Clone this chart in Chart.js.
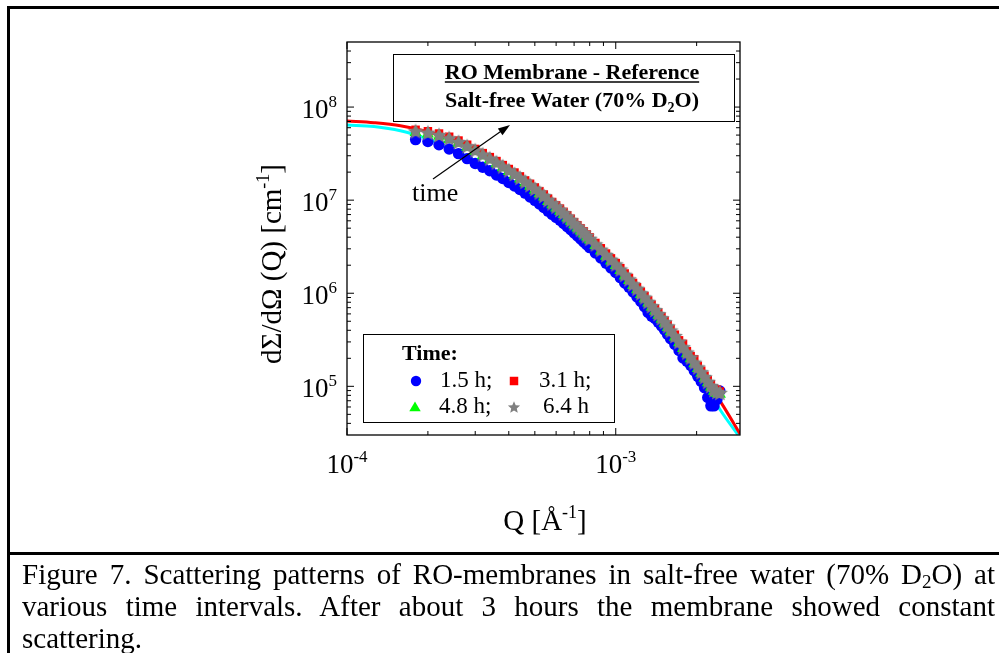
<!DOCTYPE html>
<html>
<head>
<meta charset="utf-8">
<script src="https://cdn.jsdelivr.net/npm/chart.js@4.4.1/dist/chart.umd.min.js"></script>
<style>
html,body{margin:0;padding:0;background:#fff;}
#wrap{position:relative;width:999px;height:653px;overflow:hidden;background:#fff;}
#c{position:absolute;left:0;top:0;}
.bar{position:absolute;background:#000;}
#caption{position:absolute;left:22px;top:558px;width:973px;font-family:"Liberation Serif","Times New Roman",serif;font-size:29px;line-height:32px;text-align:justify;color:#000;}
#caption sub{font-size:19px;line-height:0;vertical-align:-4px;}
</style>
</head>
<body>
<div id="wrap">
  <canvas id="c" width="999" height="653"></canvas>
  <div class="bar" style="left:7px;top:6px;width:992px;height:2.5px;"></div>
  <div class="bar" style="left:7px;top:6px;width:2.7px;height:647px;"></div>
  <div class="bar" style="left:7px;top:551.5px;width:992px;height:3px;"></div>
  <div id="caption">Figure 7. Scattering patterns of RO-membranes in salt-free water (70% D<sub>2</sub>O) at various time intervals. After about 3 hours the membrane showed constant scattering.</div>
</div>
<script>
// ---------- data ----------
const qData = [
  1.8e-4, 2.0e-4, 2.2e-4, 2.4e-4, 2.6e-4, 2.8e-4, 3.0e-4, 3.2e-4, 3.4e-4, 3.6e-4,
  3.8e-4, 4.0e-4, 4.2e-4, 4.4e-4, 4.6e-4, 4.8e-4, 5.0e-4, 5.2e-4, 5.4e-4, 5.6e-4,
  5.8e-4, 6.0e-4, 6.2e-4, 6.4e-4, 6.6e-4, 6.8e-4, 7.0e-4, 7.2e-4, 7.4e-4, 7.6e-4,
  7.8e-4, 8.0e-4,
  8.4e-4, 8.8e-4, 9.2e-4, 9.6e-4, 1.00e-3, 1.04e-3, 1.08e-3, 1.12e-3, 1.16e-3, 1.20e-3,
  1.24e-3, 1.28e-3, 1.32e-3, 1.36e-3, 1.40e-3, 1.44e-3, 1.48e-3, 1.52e-3, 1.56e-3, 1.60e-3,
  1.66e-3, 1.72e-3, 1.78e-3, 1.84e-3, 1.90e-3, 1.96e-3, 2.02e-3, 2.08e-3, 2.14e-3, 2.20e-3,
  2.26e-3, 2.32e-3, 2.38e-3, 2.44e-3
];
const i15h = [
  4.47e7, 4.27e7, 3.94e7, 3.55e7, 3.16e7, 2.79e7, 2.48e7, 2.26e7, 2.07e7, 1.86e7,
  1.71e7, 1.55e7, 1.42e7, 1.30e7, 1.19e7, 1.08e7, 9.95e6, 9.12e6, 8.32e6, 7.62e6,
  7.03e6, 6.53e6, 6.07e6, 5.62e6, 5.19e6, 4.80e6, 4.45e6, 4.12e6, 3.82e6, 3.56e6,
  3.32e6, 3.09e6,
  2.71e6, 2.39e6, 2.10e6, 1.87e6, 1.67e6, 1.47e6, 1.29e6, 1.16e6, 1.03e6, 9.12e5,
  8.17e5, 7.16e5, 6.21e5, 5.66e5, 5.37e5, 4.89e5, 4.45e5, 4.03e5, 3.61e5, 3.24e5,
  2.82e5, 2.43e5, 2.02e5, 1.86e5, 1.68e5, 1.47e5, 1.28e5, 1.13e5, 9.68e4, 7.59e4,
  6.17e4, 6.17e4, 7.24e4, 8.91e4
];
const i31h = [
  5.70e7, 5.50e7, 5.20e7, 4.80e7, 4.37e7, 3.94e7, 3.55e7, 3.20e7, 2.90e7, 2.63e7,
  2.38e7, 2.16e7, 1.98e7, 1.80e7, 1.63e7, 1.50e7, 1.37e7, 1.25e7, 1.15e7, 1.04e7,
  9.55e6, 8.80e6, 8.12e6, 7.49e6, 6.88e6, 6.32e6, 5.81e6, 5.37e6, 4.97e6, 4.62e6,
  4.28e6, 3.98e6,
  3.47e6, 3.04e6, 2.67e6, 2.37e6, 2.11e6, 1.86e6, 1.63e6, 1.46e6, 1.29e6, 1.16e6,
  1.04e6, 9.33e5, 8.37e5, 7.54e5, 6.84e5, 6.19e5, 5.60e5, 5.07e5, 4.57e5, 4.12e5,
  3.59e5, 3.12e5, 2.86e5, 2.39e5, 2.11e5, 1.95e5, 1.66e5, 1.47e5, 1.30e5, 1.16e5,
  1.05e5, 9.5e4, 9.2e4, 8.8e4
];
const i48h = [
  5.34e7, 5.15e7, 4.86e7, 4.48e7, 4.09e7, 3.69e7, 3.33e7, 3.00e7, 2.72e7, 2.46e7,
  2.23e7, 2.03e7, 1.85e7, 1.69e7, 1.53e7, 1.41e7, 1.28e7, 1.17e7, 1.08e7, 9.70e6,
  8.95e6, 8.25e6, 7.61e6, 7.02e6, 6.45e6, 5.93e6, 5.45e6, 5.03e6, 4.67e6, 4.34e6,
  4.02e6, 3.73e6,
  3.25e6, 2.85e6, 2.50e6, 2.22e6, 1.98e6, 1.75e6, 1.53e6, 1.37e6, 1.21e6, 1.09e6,
  9.70e5, 8.75e5, 7.85e5, 7.07e5, 6.41e5, 5.80e5, 5.25e5, 4.75e5, 4.29e5, 3.86e5,
  3.37e5, 2.93e5, 2.55e5, 2.24e5, 1.98e5, 1.75e5, 1.55e5, 1.38e5, 1.22e5, 1.09e5,
  9.8e4, 8.85e4, 8.4e4, 8.2e4
];
const i64h = [
  5.50e7, 5.31e7, 5.01e7, 4.62e7, 4.22e7, 3.80e7, 3.43e7, 3.09e7, 2.80e7, 2.54e7,
  2.30e7, 2.09e7, 1.91e7, 1.74e7, 1.58e7, 1.45e7, 1.32e7, 1.21e7, 1.11e7, 1.00e7,
  9.23e6, 8.51e6, 7.85e6, 7.24e6, 6.65e6, 6.11e6, 5.62e6, 5.19e6, 4.81e6, 4.47e6,
  4.14e6, 3.85e6,
  3.35e6, 2.94e6, 2.58e6, 2.29e6, 2.04e6, 1.80e6, 1.58e6, 1.41e6, 1.25e6, 1.12e6,
  1.00e6, 9.02e5, 8.09e5, 7.29e5, 6.61e5, 5.98e5, 5.41e5, 4.90e5, 4.42e5, 3.98e5,
  3.47e5, 3.02e5, 2.63e5, 2.31e5, 2.04e5, 1.80e5, 1.60e5, 1.42e5, 1.26e5, 1.12e5,
  1.01e5, 9.12e4, 8.71e4, 8.51e4
];
const qFit   = [1.0e-4, 1.26e-4, 1.58e-4, 2.0e-4, 2.51e-4, 3.16e-4, 3.98e-4, 5.01e-4, 6.31e-4, 7.94e-4, 1.0e-3, 1.26e-3, 1.58e-3, 2.0e-3, 2.51e-3, 2.9e-3];
const fit64h = [7.08e7, 6.79e7, 6.31e7, 5.43e7, 4.37e7, 3.20e7, 2.14e7, 1.35e7, 7.76e6, 3.98e6, 2.09e6, 9.77e5, 4.27e5, 1.70e5, 6.17e4, 3.09e4];
const fit15h = [6.41e7, 6.17e7, 5.56e7, 4.52e7, 3.43e7, 2.43e7, 1.58e7, 1.00e7, 5.89e6, 3.31e6, 1.74e6, 8.32e5, 3.55e5, 1.41e5, 5.01e4, 2.82e4];

const seriesLabels = ['1.5 h;', '3.1 h;', '4.8 h;', '6.4 h'];
const xMajorTicks = [1e-4, 1e-3];
const xTickExp    = ['-4', '-3'];
const xMinorTicks = [2e-4, 3e-4, 4e-4, 5e-4, 6e-4, 7e-4, 8e-4, 9e-4, 2e-3];
const yMajorTicks = [1e5, 1e6, 1e7, 1e8];
const yTickExp    = ['5', '6', '7', '8'];
const yMinorTicks = [4e4, 5e4, 6e4, 7e4, 8e4, 9e4, 2e5, 3e5, 4e5, 5e5, 6e5, 7e5, 8e5, 9e5,
                     2e6, 3e6, 4e6, 5e6, 6e6, 7e6, 8e6, 9e6, 2e7, 3e7, 4e7, 5e7, 6e7, 7e7, 8e7, 9e7,
                     2e8, 3e8, 4e8];

// ---------- styling ----------
const SERIF = '"Liberation Serif","Times New Roman",serif';
const makeStar = (size, outer, inner) => {
  const c = document.createElement('canvas'); c.width = size; c.height = size;
  const g = c.getContext('2d'); g.fillStyle = '#808080'; g.beginPath();
  for (let k = 0; k < 10; k++) {
    const r = k % 2 === 0 ? outer : inner;
    const a = -Math.PI / 2 + k * Math.PI / 5;
    g.lineTo(size / 2 + r * Math.cos(a), size / 2 + 0.6 + r * Math.sin(a));
  }
  g.closePath(); g.fill(); return c;
};
const starImg = makeStar(18, 8.4, 3.9);
const starLegend = makeStar(14, 6.4, 2.9);
const styles = [
  {pointStyle: 'circle',   radius: 5.7, color: '#0000ff'},
  {pointStyle: 'rect',     radius: 6.0, color: '#ff0000'},
  {pointStyle: 'triangle', radius: 7.0, color: '#00ff00'},
  {pointStyle: starImg,    radius: 8,   color: '#808080'}
];
const legendStyles = [
  {pointStyle: 'circle',   radius: 5.2, color: '#0000ff'},
  {pointStyle: 'rect',     radius: 6.0, color: '#ff0000'},
  {pointStyle: 'triangle', radius: 6.6, color: '#00ff00'},
  {pointStyle: starLegend, radius: 6,   color: '#808080'}
];
const pts = (xs, ys) => xs.map((x, i) => ({x: x, y: ys[i]}));

const decor = {
  id: 'decor',
  afterDatasetsDraw(chart) {
    const ctx = chart.ctx, xs = chart.scales.x, ys = chart.scales.y, a = chart.chartArea;
    ctx.save();
    ctx.strokeStyle = '#000'; ctx.fillStyle = '#000';
    const L = (x1, y1, x2, y2) => { ctx.beginPath(); ctx.moveTo(x1, y1); ctx.lineTo(x2, y2); ctx.stroke(); };
    ctx.lineWidth = 1.3;
    ctx.strokeRect(a.left, a.top, a.right - a.left, a.bottom - a.top);
    ctx.lineWidth = 1;
    xMajorTicks.forEach(v => { const p = xs.getPixelForValue(v); L(p, a.bottom, p, a.bottom - 7); L(p, a.top, p, a.top + 7); });
    xMinorTicks.forEach(v => { const p = xs.getPixelForValue(v); L(p, a.bottom, p, a.bottom - 4); L(p, a.top, p, a.top + 4); });
    yMajorTicks.forEach(v => { const p = ys.getPixelForValue(v); L(a.left, p, a.left + 7, p); L(a.right, p, a.right - 7, p); });
    yMinorTicks.forEach(v => { const p = ys.getPixelForValue(v); L(a.left, p, a.left + 4, p); L(a.right, p, a.right - 4, p); });

    const pow10 = (exp, x, y, align) => {
      ctx.font = '27px ' + SERIF; const wb = ctx.measureText('10').width;
      ctx.font = '17px ' + SERIF; const we = ctx.measureText(exp).width;
      const x0 = align === 'center' ? x - (wb + we) / 2 : x - (wb + we);
      ctx.textAlign = 'left'; ctx.textBaseline = 'alphabetic';
      ctx.font = '27px ' + SERIF; ctx.fillText('10', x0, y);
      ctx.font = '17px ' + SERIF; ctx.fillText(exp, x0 + wb, y - 11);
    };
    xMajorTicks.forEach((v, i) => pow10(xTickExp[i], xs.getPixelForValue(v), a.bottom + 38, 'center'));
    yMajorTicks.forEach((v, i) => pow10(yTickExp[i], a.left - 10, ys.getPixelForValue(v) + 11, 'right'));

    const rich = (parts, x, y, align) => {
      let w = 0;
      parts.forEach(p => { ctx.font = (p.bold ? 'bold ' : '') + p.size + 'px ' + SERIF; p.w = ctx.measureText(p.t).width; w += p.w; });
      let cx = align === 'center' ? x - w / 2 : x;
      ctx.textAlign = 'left'; ctx.textBaseline = 'alphabetic';
      parts.forEach(p => { ctx.font = (p.bold ? 'bold ' : '') + p.size + 'px ' + SERIF; ctx.fillText(p.t, cx, y + (p.dy || 0)); cx += p.w; });
      return {start: align === 'center' ? x - w / 2 : x, width: w};
    };
    rich([{t: 'Q [Å', size: 29}, {t: '-1', size: 18, dy: -12}, {t: ']', size: 29}], 545, 530, 'center');
    ctx.save();
    ctx.translate(281, 264); ctx.rotate(-Math.PI / 2);
    rich([{t: 'dΣ/dΩ (Q) [cm', size: 29}, {t: '-1', size: 18, dy: -12}, {t: ']', size: 29}], 0, 0, 'center');
    ctx.restore();

    ctx.fillStyle = '#fff'; ctx.fillRect(393.5, 54.5, 341, 67);
    ctx.fillStyle = '#000'; ctx.lineWidth = 1; ctx.strokeRect(393.5, 54.5, 341, 67);
    const r1 = rich([{t: 'RO Membrane - Reference', size: 22, bold: true}], 572, 79, 'center');
    ctx.lineWidth = 1.6; L(r1.start, 82, r1.start + r1.width, 82);
    rich([{t: 'Salt-free Water (70% D', size: 22, bold: true}, {t: '2', size: 14, dy: 5, bold: true}, {t: 'O)', size: 22, bold: true}], 572, 107, 'center');

    ctx.lineWidth = 1.2;
    const ax1 = 433, ay1 = 179, ax2 = 510, ay2 = 125;
    const ang = Math.atan2(ay2 - ay1, ax2 - ax1);
    L(ax1, ay1, ax2 - 8 * Math.cos(ang), ay2 - 8 * Math.sin(ang));
    ctx.beginPath();
    ctx.moveTo(ax2, ay2);
    ctx.lineTo(ax2 - 12 * Math.cos(ang) + 4 * Math.sin(ang), ay2 - 12 * Math.sin(ang) - 4 * Math.cos(ang));
    ctx.lineTo(ax2 - 12 * Math.cos(ang) - 4 * Math.sin(ang), ay2 - 12 * Math.sin(ang) + 4 * Math.cos(ang));
    ctx.closePath(); ctx.fill();
    rich([{t: 'time', size: 26}], 412, 201, 'left');

    ctx.fillStyle = '#fff'; ctx.fillRect(363.5, 334.5, 251, 88);
    ctx.fillStyle = '#000'; ctx.lineWidth = 1; ctx.strokeRect(363.5, 334.5, 251, 88);
    rich([{t: 'Time:', size: 22, bold: true}], 402, 360, 'left');
    const lg = [[416, 381, 440, 387], [514, 381, 539, 387], [415, 408, 439, 413], [514, 407, 543, 413]];
    lg.forEach((g, i) => {
      const s = legendStyles[i];
      ctx.fillStyle = s.color;
      Chart.helpers.drawPoint(ctx, {pointStyle: s.pointStyle, radius: s.radius, rotation: 0, borderWidth: 0}, g[0], g[1]);
      ctx.fillStyle = '#000';
      rich([{t: seriesLabels[i], size: 23}], g[2], g[3], 'left');
    });
    ctx.restore();
  }
};

const ds = (lab, ys, idx, order) => ({
  label: lab, data: pts(qData, ys), showLine: false, order: order,
  pointStyle: styles[idx].pointStyle, pointRadius: styles[idx].radius,
  backgroundColor: styles[idx].color, borderColor: styles[idx].color, borderWidth: 0
});

new Chart(document.getElementById('c'), {
  type: 'scatter',
  data: {
    datasets: [
      ds('6.4 h', i64h, 3, 1),
      ds('4.8 h', i48h, 2, 2),
      ds('3.1 h', i31h, 1, 3),
      ds('1.5 h', i15h, 0, 4),
      {label: 'fit 6.4 h', data: pts(qFit, fit64h), showLine: true, pointRadius: 0, borderColor: '#ff0000', borderWidth: 3, cubicInterpolationMode: 'monotone', order: 5},
      {label: 'fit 1.5 h', data: pts(qFit, fit15h), showLine: true, pointRadius: 0, borderColor: '#00ffff', borderWidth: 3, cubicInterpolationMode: 'monotone', order: 6}
    ]
  },
  options: {
    responsive: false, animation: false, events: [],
    layout: {padding: {left: 347, top: 42, right: 259, bottom: 218}},
    plugins: {legend: {display: false}, tooltip: {enabled: false}},
    scales: {
      x: {type: 'logarithmic', min: 1e-4, max: 2.9e-3, display: false},
      y: {type: 'logarithmic', min: 3e4, max: 5e8, display: false}
    }
  },
  plugins: [decor]
});
</script>
</body>
</html>
